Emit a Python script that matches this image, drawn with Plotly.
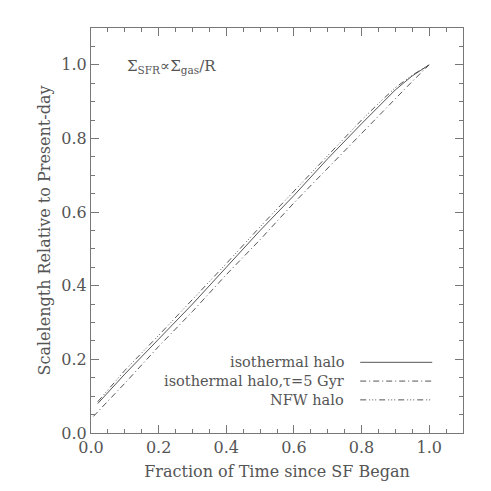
import plotly.graph_objects as go

# fraction of time since SF began vs scalelength relative to present-day
x_iso = [0.02, 0.1, 0.2, 0.3, 0.4, 0.5, 0.6, 0.7, 0.8, 0.85, 0.9, 0.95, 1.0]
y_iso = [0.08, 0.16, 0.255, 0.35, 0.45, 0.55, 0.645, 0.745, 0.84, 0.887, 0.932, 0.97, 1.0]

x_tau = [0.007, 0.1, 0.2, 0.3, 0.4, 0.5, 0.6, 0.7, 0.8, 0.9, 0.95, 1.0]
y_tau = [0.045, 0.135, 0.235, 0.33, 0.43, 0.525, 0.625, 0.72, 0.815, 0.91, 0.955, 1.0]

x_nfw = [0.02, 0.1, 0.2, 0.3, 0.4, 0.5, 0.6, 0.7, 0.8, 0.85, 0.9, 0.95, 1.0]
y_nfw = [0.085, 0.17, 0.265, 0.362, 0.46, 0.56, 0.657, 0.755, 0.85, 0.895, 0.938, 0.972, 1.0]

names = ["isothermal halo", "isothermal halo,\u03c4=5 Gyr", "NFW halo"]
dashes = ["solid", "6px,3px,1px,3px", "6px,3px,1px,2px,1px,2px,1px,3px"]
legend_y = [0.192, 0.141, 0.090]

col = "#555555"
axcol = "#777777"
font = "DejaVu Serif"

fig = go.Figure()
for xs, ys, d in [(x_iso, y_iso, dashes[0]), (x_tau, y_tau, dashes[1]), (x_nfw, y_nfw, dashes[2])]:
    fig.add_trace(go.Scatter(x=xs, y=ys, mode="lines", line=dict(color=col, width=1, dash=d),
                             showlegend=False))

# hand-made legend: text on the left, line sample on the right
for name, d, ly in zip(names, dashes, legend_y):
    fig.add_trace(go.Scatter(x=[0.796, 1.009], y=[ly, ly], mode="lines",
                             line=dict(color=col, width=1, dash=d), showlegend=False))
    fig.add_annotation(x=0.754, y=ly, text=name, showarrow=False, xanchor="right",
                       font=dict(family=font, size=14.5, color=col))

fig.add_annotation(x=0.1, y=0.995, xanchor="left", showarrow=False,
                   text="\u03a3<sub>SFR</sub>\u221d\u03a3<sub>gas</sub>/R",
                   font=dict(family=font, size=15, color=col))

axis = dict(range=[0, 1.1], dtick=0.2, tickformat=".1f", ticks="inside", ticklen=8,
            tickcolor=axcol, linecolor=axcol, linewidth=1, mirror="ticks", showline=True,
            showgrid=False, zeroline=False,
            minor=dict(dtick=0.05, ticks="inside", ticklen=4, tickcolor=axcol),
            tickfont=dict(family=font, size=16, color=col))

fig.update_layout(
    width=491, height=491,
    margin=dict(l=83, r=36, t=20, b=66),
    plot_bgcolor="white", paper_bgcolor="white",
    xaxis=dict(axis, title=dict(text="Fraction of Time since SF Began", standoff=9,
                                font=dict(family=font, size=16, color=col))),
    yaxis=dict(axis, title=dict(text="Scalelength Relative to Present-day", standoff=6,
                                font=dict(family=font, size=16, color=col))),
)

fig.write_html("out.html")
